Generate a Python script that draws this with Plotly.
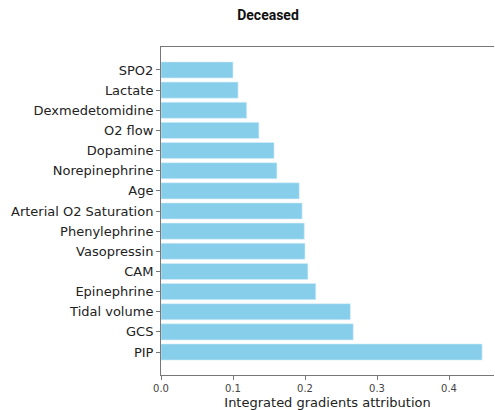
import plotly.graph_objects as go

features = ["PIP", "GCS", "Tidal volume", "Epinephrine", "CAM", "Vasopressin",
            "Phenylephrine", "Arterial O2 Saturation", "Age", "Norepinephrine",
            "Dopamine", "O2 flow", "Dexmedetomidine", "Lactate", "SPO2"]
attribution = [0.446, 0.267, 0.263, 0.215, 0.204, 0.200,
               0.199, 0.196, 0.192, 0.161,
               0.157, 0.136, 0.119, 0.107, 0.100]
x_ticks = [0.0, 0.1, 0.2, 0.3, 0.4]
x_tick_labels = ["0.0", "0.1", "0.2", "0.3", "0.4"]

fig = go.Figure(go.Bar(
    x=attribution, y=features, orientation="h",
    marker=dict(color="#87CEEB", line=dict(width=0.6, color="#d6eef8")),
    hoverinfo="x+y",
))

fig.update_layout(
    width=495, height=410,
    margin=dict(l=161, r=1, t=47, b=35, autoexpand=False),
    paper_bgcolor="white", plot_bgcolor="white",
    bargap=0.2,
    showlegend=False,
    font=dict(family="DejaVu Sans", color="#222"),
    title=dict(text="<b>Deceased</b>", x=268/495, xanchor="center", xref="container",
               y=1 - 15/410, yanchor="middle", yref="container",
               font=dict(family="Roboto", size=14, color="#111")),
)
fig.update_xaxes(
    range=[0, 0.4625], tickvals=x_ticks, ticktext=x_tick_labels,
    showline=True, linecolor="#777", linewidth=1, mirror=True,
    ticks="outside", ticklen=4, tickcolor="#777",
    tickfont=dict(size=10, color="#444"),
    showgrid=False, zeroline=False,
    title=dict(text="Integrated gradients attribution", font=dict(size=13, color="#222"), standoff=4),
)
fig.update_yaxes(
    range=[-1.14, 15.14], categoryorder="array", categoryarray=features,
    showline=True, linecolor="#777", linewidth=1, mirror=False,
    ticks="outside", ticklen=4, tickcolor="#777",
    tickfont=dict(size=13, color="#222"),
    showgrid=False, zeroline=False,
)

fig.write_html("out.html", config={"displayModeBar": False},
               post_script="document.body.style.margin='0';document.body.style.overflow='hidden';")
